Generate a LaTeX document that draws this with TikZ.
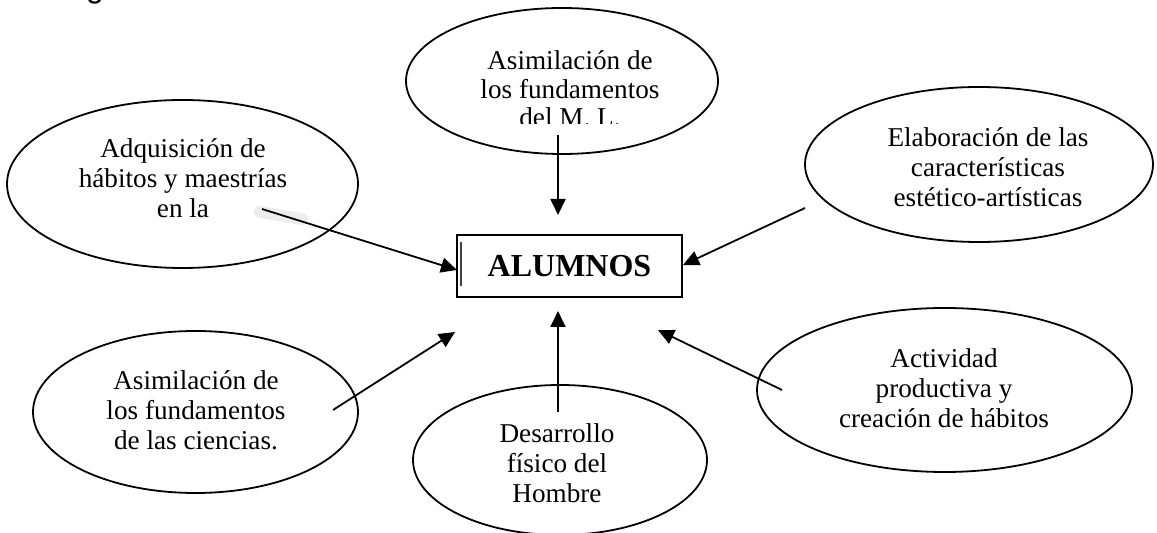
\documentclass[tikz,border=0pt]{standalone}
\usepackage{fontspec}
\setmainfont{Liberation Serif}
\newfontfamily\sansg{Liberation Sans}
\usetikzlibrary{shapes.geometric,arrows.meta}
\begin{document}
\begin{tikzpicture}[x=0.5pt,y=-0.5pt,
  bubble/.style={draw,ellipse,line width=0.9pt,inner sep=0pt},
  txt/.style={anchor=base,inner sep=0pt,font=\fontsize{13.6}{15}\selectfont},
  arr/.style={line width=0.9pt,-{Triangle[length=8pt,width=7.5pt]}}]
\useasboundingbox (0,0) rectangle (1157,533);

% fragment of a cut-off title
\node[anchor=base,inner sep=0pt,font=\sansg\fontsize{16}{19}\selectfont] (g) at (95,-2) {g};

% ellipses
\node[bubble,minimum width=156pt,minimum height=73pt] (e1) at (562,81) {};
\node[bubble,minimum width=175.5pt,minimum height=84pt] (e2) at (182.5,184) {};
\node[bubble,minimum width=174pt,minimum height=77.5pt] (e3) at (979,164.5) {};
\node[bubble,minimum width=162.5pt,minimum height=81pt] (e4) at (195.5,412) {};
\node[bubble,minimum width=147pt,minimum height=75pt] (e5) at (560,460) {};
\node[bubble,minimum width=187.5pt,minimum height=82pt] (e6) at (944.5,390) {};

% texts
\begin{scope}
\clip (0,0) rectangle (1157,124);
\node[txt,font=\fontsize{13.6}{14.2}\selectfont] (t1) at (570,70) {\begin{tabular}[t]{@{}c@{}}Asimilación de\\los fundamentos\\del M. L.\end{tabular}};
\end{scope}
\node[txt] (t2) at (183,158) {\begin{tabular}[t]{@{}c@{}}Adquisición de\\hábitos y maestrías\\en la\end{tabular}};
\node[txt] (t3) at (988,147) {\begin{tabular}[t]{@{}c@{}}Elaboración de las\\características\\estético-artísticas\end{tabular}};
\node[txt] (t4) at (196,390) {\begin{tabular}[t]{@{}c@{}}Asimilación de\\los fundamentos\\de las ciencias.\end{tabular}};
\node[txt] (t5) at (557,443) {\begin{tabular}[t]{@{}c@{}}Desarrollo\\físico del\\Hombre\end{tabular}};
\node[txt] (t6) at (944,368) {\begin{tabular}[t]{@{}c@{}}Actividad\\productiva y\\creación de hábitos\end{tabular}};

% central box
\node[draw,line width=0.9pt,minimum width=112.5pt,minimum height=31pt,inner sep=0pt,
      font=\bfseries\fontsize{16}{19}\selectfont] (box) at (569.5,266) {ALUMNOS};
\draw[line width=0.7pt,black!75] ([xshift=2.5pt,yshift=-4pt]box.north west) -- ([xshift=2.5pt,yshift=6pt]box.south west);

% smudge near "en la"
\draw[black!7,line width=6pt,line cap=round] (260,212) -- (302,219);

% arrow ends
\coordinate (s1) at (558,135); \coordinate (d1) at (558,215);
\coordinate (s2) at (262,209); \coordinate (d2) at (457,270);
\coordinate (s3) at (805,208); \coordinate (d3) at (683,265);
\coordinate (s4) at (333,410); \coordinate (d4) at (455,332);
\coordinate (s5) at (558,412); \coordinate (d5) at (558,311);
\coordinate (s6) at (782,390); \coordinate (d6) at (658,330);

\draw[arr] (s1) -- (d1);
\draw[arr] (s2) -- (d2);
\draw[arr] (s3) -- (d3);
\draw[arr] (s4) -- (d4);
\draw[arr] (s5) -- (d5);
\draw[arr] (s6) -- (d6);
\end{tikzpicture}
\end{document}
